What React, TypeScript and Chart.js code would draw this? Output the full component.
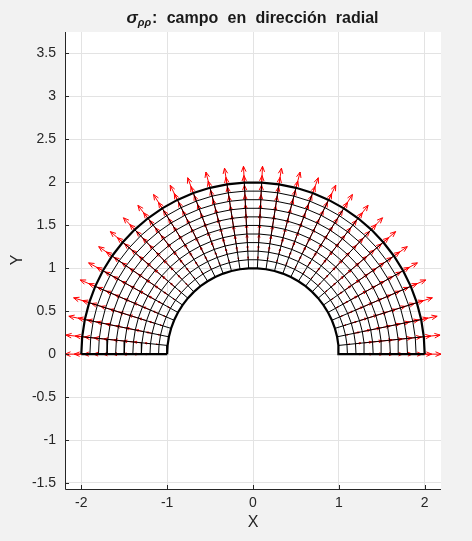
import { useEffect, useRef } from 'react';
import { Chart, registerables } from 'chart.js';

Chart.register(...registerables);

// Mesh definition
const radii = [1.0, 1.1, 1.2, 1.3, 1.4, 1.5, 1.6, 1.7, 1.8, 1.9, 2.0];
const anglesDeg = [
  0, 5.806, 11.613, 17.419, 23.226, 29.032, 34.839, 40.645, 46.452, 52.258,
  58.065, 63.871, 69.677, 75.484, 81.29, 87.097, 92.903, 98.71, 104.516, 110.323,
  116.129, 121.935, 127.742, 133.548, 139.355, 145.161, 150.968, 156.774, 162.581, 168.387,
  174.194, 180,
];
// radial field arrow length (data units) at each radius
const arrowLengths = [0, 0.035, 0.065, 0.09, 0.11, 0.128, 0.144, 0.158, 0.17, 0.181, 0.19];
const xTicks = [-2, -1, 0, 1, 2];
const yTicks = [-1.5, -1, -0.5, 0, 0.5, 1, 1.5, 2, 2.5, 3, 3.5];
const xRange = [-2.19, 2.19];
const yRange = [-1.57, 3.75];

const FONT = '"Liberation Sans", Arial, Helvetica, sans-serif';
const TXT = '#262626';

export default function App() {
  const ref = useRef<HTMLCanvasElement | null>(null);

  useEffect(() => {
    const canvas = ref.current;
    if (!canvas) return;
    const rmin = radii[0];
    const rmax = radii[radii.length - 1];
    const datasets: any[] = [];
    radii.forEach((r) => {
      const thick = r === rmin || r === rmax;
      datasets.push({
        data: anglesDeg.map((a) => ({
          x: r * Math.cos((a * Math.PI) / 180),
          y: r * Math.sin((a * Math.PI) / 180),
        })),
        showLine: true,
        pointRadius: 0,
        borderColor: '#000',
        borderWidth: thick ? 2.2 : 1,
        order: thick ? 0 : 1,
      });
    });
    anglesDeg.forEach((a, i) => {
      const thick = i === 0 || i === anglesDeg.length - 1;
      const c = Math.cos((a * Math.PI) / 180);
      const s = Math.sin((a * Math.PI) / 180);
      datasets.push({
        data: [
          { x: rmin * c, y: rmin * s },
          { x: rmax * c, y: rmax * s },
        ],
        showLine: true,
        pointRadius: 0,
        borderColor: '#000',
        borderWidth: thick ? 2.2 : 1,
        order: thick ? 0 : 1,
      });
    });

    const decor = {
      id: 'decor',
      beforeDraw(chart: any) {
        const { ctx, chartArea } = chart;
        ctx.save();
        ctx.fillStyle = '#f2f2f2';
        ctx.fillRect(0, 0, chart.width, chart.height);
        ctx.fillStyle = '#ffffff';
        ctx.fillRect(chartArea.left, chartArea.top, chartArea.right - chartArea.left, chartArea.bottom - chartArea.top);
        ctx.restore();
      },
      beforeDatasetsDraw(chart: any) {
        const { ctx, chartArea } = chart;
        const xs = chart.scales.x;
        const ys = chart.scales.y;
        ctx.save();
        ctx.beginPath();
        ctx.rect(chartArea.left, chartArea.top, chartArea.right - chartArea.left, chartArea.bottom - chartArea.top);
        ctx.clip();
        ctx.strokeStyle = '#ff0000';
        ctx.lineWidth = 1;
        radii.forEach((r, ri) => {
          const L = arrowLengths[ri];
          if (!L) return;
          anglesDeg.forEach((a) => {
            const c = Math.cos((a * Math.PI) / 180);
            const s = Math.sin((a * Math.PI) / 180);
            const x0 = xs.getPixelForValue(r * c);
            const y0 = ys.getPixelForValue(r * s);
            const x1 = xs.getPixelForValue((r + L) * c);
            const y1 = ys.getPixelForValue((r + L) * s);
            const dx = x1 - x0;
            const dy = y1 - y0;
            const len = Math.hypot(dx, dy);
            const ux = dx / len;
            const uy = dy / len;
            const hl = Math.min(5.5, len * 0.34);
            const hw = hl * 0.42;
            ctx.beginPath();
            ctx.moveTo(x0, y0);
            ctx.lineTo(x1, y1);
            ctx.stroke();
            ctx.beginPath();
            ctx.moveTo(x1 - ux * hl - uy * hw, y1 - uy * hl + ux * hw);
            ctx.lineTo(x1, y1);
            ctx.lineTo(x1 - ux * hl + uy * hw, y1 - uy * hl - ux * hw);
            ctx.stroke();
          });
        });
        ctx.restore();
      },
      afterDraw(chart: any) {
        const { ctx, chartArea } = chart;
        const xs = chart.scales.x;
        const ys = chart.scales.y;
        ctx.save();
        // axis lines
        ctx.strokeStyle = TXT;
        ctx.lineWidth = 1;
        ctx.beginPath();
        ctx.moveTo(chartArea.left + 0.5, chartArea.top);
        ctx.lineTo(chartArea.left + 0.5, chartArea.bottom + 0.5);
        ctx.lineTo(chartArea.right, chartArea.bottom + 0.5);
        ctx.stroke();
        // inward ticks
        ctx.beginPath();
        xTicks.forEach((v) => {
          const px = Math.round(xs.getPixelForValue(v)) + 0.5;
          ctx.moveTo(px, chartArea.bottom);
          ctx.lineTo(px, chartArea.bottom - 4);
        });
        yTicks.forEach((v) => {
          const py = Math.round(ys.getPixelForValue(v)) + 0.5;
          ctx.moveTo(chartArea.left, py);
          ctx.lineTo(chartArea.left + 4, py);
        });
        ctx.stroke();

        // axis labels
        ctx.fillStyle = TXT;
        ctx.font = `16px ${FONT}`;
        ctx.textAlign = 'center';
        ctx.textBaseline = 'middle';
        ctx.fillText('X', (chartArea.left + chartArea.right) / 2, 523);
        ctx.save();
        ctx.translate(18, 260);
        ctx.rotate(-Math.PI / 2);
        ctx.fillText('Y', 0, 0);
        ctx.restore();

        // title
        ctx.fillStyle = '#1a1a1a';
        ctx.textAlign = 'left';
        ctx.textBaseline = 'alphabetic';
        const words = ['campo', 'en', 'dirección', 'radial'];
        const fSig = `italic bold 17px ${FONT}`;
        const fSub = `italic bold 11px ${FONT}`;
        const fMain = `bold 16px ${FONT}`;
        ctx.font = fSig;
        const wSig = ctx.measureText('σ').width;
        ctx.font = fSub;
        const wSub = ctx.measureText('ρρ').width;
        ctx.font = fMain;
        const wColon = ctx.measureText(':').width;
        const wWords = words.map((w) => ctx.measureText(w).width);
        const target = 252;
        const natural = wSig + wSub + 1 + wColon + wWords.reduce((a, b) => a + b, 0);
        const gap = Math.max(4, (target - natural) / words.length);
        const total = natural + gap * words.length;
        let x = 252.5 - total / 2;
        const base = 22.5;
        ctx.font = fSig;
        ctx.fillText('σ', x, base);
        x += wSig;
        ctx.font = fSub;
        ctx.fillText('ρρ', x, base + 3.5);
        x += wSub + 1;
        ctx.font = fMain;
        ctx.fillText(':', x, base);
        x += wColon;
        words.forEach((w, i) => {
          x += gap;
          ctx.fillText(w, x, base);
          x += wWords[i];
        });
        ctx.restore();
      },
    };

    const chart = new Chart(canvas, {
      type: 'scatter',
      data: { datasets },
      options: {
        responsive: false,
        animation: false,
        devicePixelRatio: 1,
        layout: { padding: { top: 32, right: 31, left: 0, bottom: 0 } },
        plugins: { legend: { display: false }, tooltip: { enabled: false }, title: { display: false } },
        scales: {
          x: {
            type: 'linear',
            min: xRange[0],
            max: xRange[1],
            afterBuildTicks: (s: any) => {
              s.ticks = xTicks.map((v) => ({ value: v }));
            },
            afterFit: (s: any) => {
              s.height = 52;
            },
            grid: { color: '#e3e3e3', drawTicks: false },
            border: { display: false },
            ticks: {
              color: TXT,
              font: { family: FONT, size: 14 },
              padding: 6,
              maxRotation: 0,
              callback: (v: any) => String(v),
            },
          },
          y: {
            type: 'linear',
            min: yRange[0],
            max: yRange[1],
            afterBuildTicks: (s: any) => {
              s.ticks = yTicks.map((v) => ({ value: v }));
            },
            afterFit: (s: any) => {
              s.width = 65;
            },
            grid: { color: '#e3e3e3', drawTicks: false },
            border: { display: false },
            ticks: {
              color: TXT,
              font: { family: FONT, size: 14 },
              padding: 9,
              callback: (v: any) => String(v),
            },
          },
        },
      },
      plugins: [decor],
    });
    return () => chart.destroy();
  }, []);

  return (
    <div style={{ position: 'fixed', left: 0, top: 0, width: 472, height: 541, background: '#f2f2f2' }}>
      <canvas ref={ref} width={472} height={541} style={{ display: 'block', width: 472, height: 541 }} />
    </div>
  );
}
